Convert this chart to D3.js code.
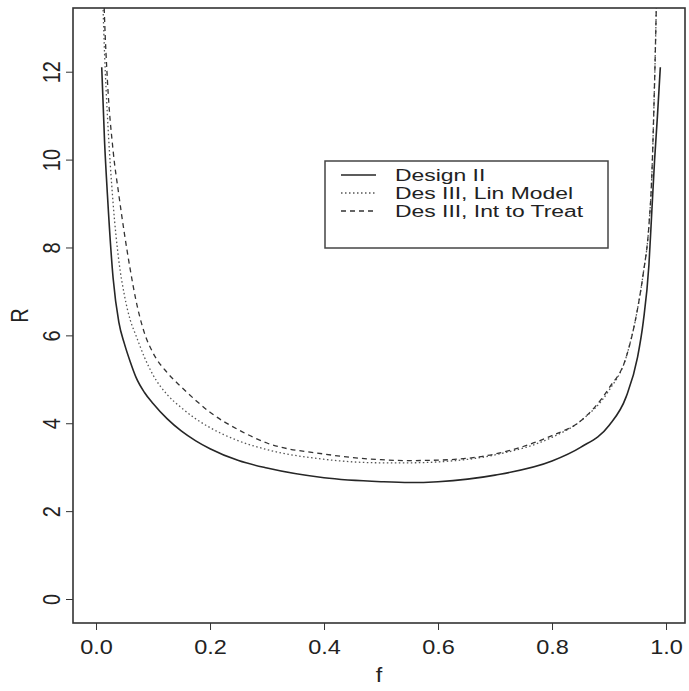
<!DOCTYPE html>
<html>
<head>
<meta charset="utf-8">
<script src="https://cdn.jsdelivr.net/npm/d3@7"></script>
<style>
  body { margin: 0; background: #fff; }
  text { font-family: "Liberation Sans", Arial, Helvetica, sans-serif; fill: #222; }
</style>
</head>
<body>
<div id="chart"></div>
<script>
// Data
const fValues = [0.01, 0.015, 0.02, 0.03, 0.04, 0.05, 0.06, 0.07, 0.085, 0.1, 0.125, 0.15, 0.175, 0.2, 0.25, 0.3, 0.4, 0.5, 0.55, 0.6, 0.7, 0.8, 0.85, 0.9, 0.93, 0.95, 0.96, 0.97, 0.975, 0.98, 0.985, 0.99];
const designII   = [12.1, 10.4, 9.2, 7.3, 6.3, 5.8, 5.4, 5.05, 4.7, 4.45, 4.1, 3.82, 3.6, 3.42, 3.15, 2.98, 2.76, 2.67, 2.65, 2.67, 2.82, 3.14, 3.45, 3.95, 4.6, 5.5, 6.3, 7.6, 8.8, 10.0, 11.0, 12.1];
const linModel   = [14.5, 12.4, 11.0, 9.0, 7.7, 6.9, 6.35, 6.0, 5.5, 5.1, 4.65, 4.35, 4.1, 3.9, 3.6, 3.4, 3.18, 3.1, 3.1, 3.12, 3.28, 3.68, 4.05, 4.75, 5.5, 6.6, 7.4, 8.5, 9.6, 11.8, 14.5, 16.0];
const intToTreat = [15.5, 13.2, 11.8, 10.2, 9.2, 8.3, 7.5, 6.8, 6.05, 5.6, 5.15, 4.82, 4.52, 4.25, 3.85, 3.55, 3.3, 3.17, 3.15, 3.16, 3.3, 3.72, 4.05, 4.8, 5.5, 6.6, 7.4, 8.5, 9.6, 11.8, 14.5, 16.0];
const seriesNames = ['Design II', 'Des III, Lin Model', 'Des III, Int to Treat'];
const xTicks = [0, 0.2, 0.4, 0.6, 0.8, 1.0];
const yTicks = [0, 2, 4, 6, 8, 10, 12];

const width = 689;
const height = 691;
const plot = {left: 73, right: 685, top: 8, bottom: 623};

const svg = d3.select('#chart').append('svg')
  .attr('width', width)
  .attr('height', height);

const x = d3.scaleLinear().domain([-0.0404, 1.0333]).range([plot.left, plot.right]);
const y = d3.scaleLinear().domain([-0.546, 13.45]).range([plot.bottom, plot.top]);

// Curves, clipped to the plot box
svg.append('clipPath')
    .attr('id', 'plot-clip')
  .append('rect')
    .attr('x', plot.left)
    .attr('y', plot.top)
    .attr('width', plot.right - plot.left)
    .attr('height', plot.bottom - plot.top);

const series = [
  {name: seriesNames[0], values: designII, stroke: '#262626', width: 1.6, dash: null},
  {name: seriesNames[1], values: linModel, stroke: '#555', width: 1.3, dash: '1.5,2.5'},
  {name: seriesNames[2], values: intToTreat, stroke: '#333', width: 1.3, dash: '5,4'}
];

const line = d3.line()
  .x(d => x(d[0]))
  .y(d => y(d[1]))
  .curve(d3.curveMonotoneX);

svg.append('g')
    .attr('clip-path', 'url(#plot-clip)')
    .attr('fill', 'none')
  .selectAll('path')
  .data(series)
  .join('path')
    .attr('d', s => line(fValues.map((f, i) => [f, s.values[i]])))
    .attr('stroke', s => s.stroke)
    .attr('stroke-width', s => s.width)
    .attr('stroke-dasharray', s => s.dash);

// Axes
const xAxis = svg.append('g')
  .attr('transform', `translate(0,${plot.bottom})`)
  .call(d3.axisBottom(x).tickValues(xTicks).tickFormat(d3.format('.1f')).tickSize(7));
xAxis.select('.domain').remove();
xAxis.selectAll('line').attr('stroke', '#333');
xAxis.selectAll('text')
  .attr('y', 31)
  .attr('dy', 0)
  .attr('fill', '#222')
  .style('font-size', '21px')
  .attr('transform', 'scale(1.12,1)');

const yAxis = svg.append('g')
  .attr('transform', `translate(${plot.left},0)`)
  .call(d3.axisLeft(y).tickValues(yTicks).tickSize(7));
yAxis.select('.domain').remove();
yAxis.selectAll('line').attr('stroke', '#333');
yAxis.selectAll('text')
  .attr('x', 0)
  .attr('dy', 0)
  .attr('fill', '#222')
  .attr('text-anchor', 'middle')
  .style('font-size', '20px')
  .attr('transform', 'translate(-13,0) rotate(-90) scale(1,1.15)');

// Frame
svg.append('rect')
  .attr('x', plot.left)
  .attr('y', plot.top)
  .attr('width', plot.right - plot.left)
  .attr('height', plot.bottom - plot.top)
  .attr('fill', 'none')
  .attr('stroke', '#333')
  .attr('stroke-width', 1.6);

// Axis titles
svg.append('text')
  .attr('transform', `translate(${(plot.left + plot.right) / 2},682) scale(1.12,1)`)
  .attr('text-anchor', 'middle')
  .style('font-size', '21px')
  .text('f');

svg.append('text')
  .attr('transform', `translate(28,${(plot.top + plot.bottom) / 2}) rotate(-90) scale(1,1.15)`)
  .attr('text-anchor', 'middle')
  .style('font-size', '20px')
  .text('R');

// Legend
const legend = svg.append('g').attr('class', 'legend');
legend.append('rect')
  .attr('x', 325)
  .attr('y', 161)
  .attr('width', 283)
  .attr('height', 87)
  .attr('fill', '#fff')
  .attr('stroke', '#444')
  .attr('stroke-width', 1.5);

const rowY = [175, 193, 211];
const baseY = [181, 199, 217];
const rows = legend.selectAll('.legend-row')
  .data(series)
  .join('g')
    .attr('class', 'legend-row');
rows.append('line')
  .attr('x1', 341)
  .attr('x2', 376)
  .attr('y1', (d, i) => rowY[i])
  .attr('y2', (d, i) => rowY[i])
  .attr('stroke', d => d.stroke)
  .attr('stroke-width', d => d.width)
  .attr('stroke-dasharray', d => d.dash);
rows.append('text')
  .attr('transform', (d, i) => `translate(395,${baseY[i]}) scale(1.43,1)`)
  .style('font-size', '16px')
  .text(d => d.name);
</script>
</body>
</html>
